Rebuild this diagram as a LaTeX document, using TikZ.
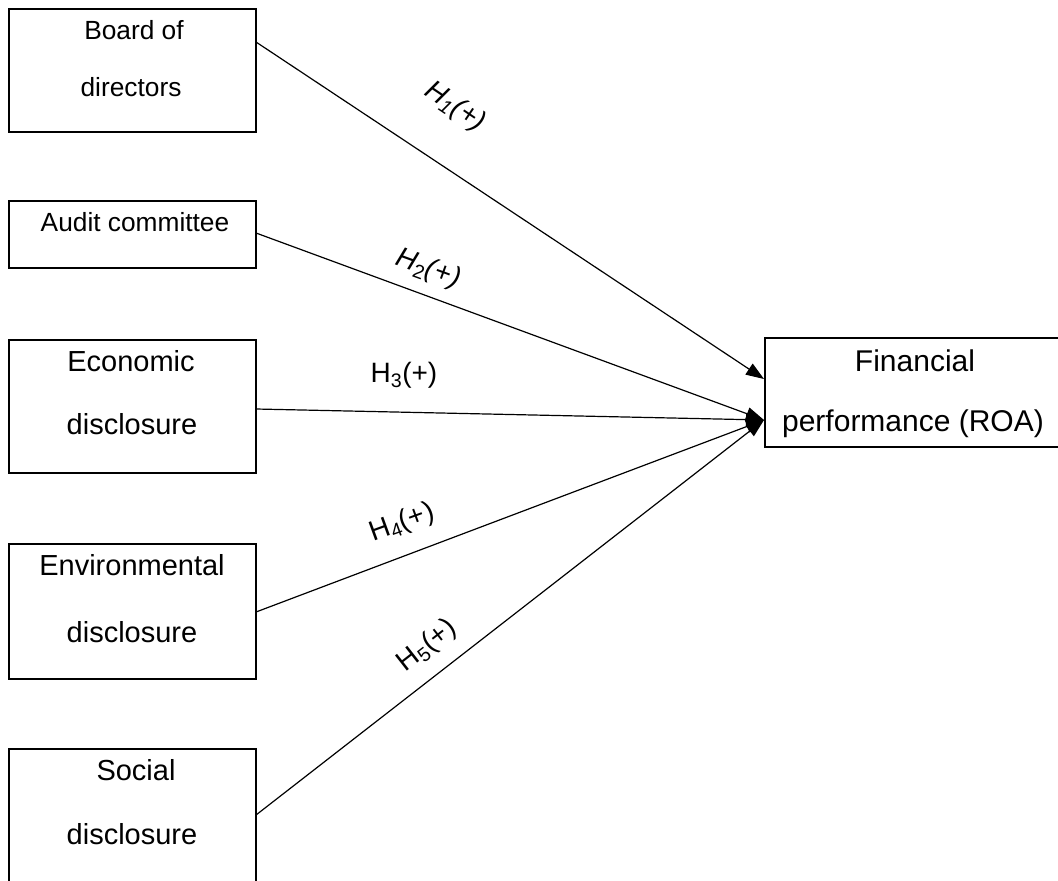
\documentclass[tikz,border=0pt]{standalone}
\usepackage{fontspec}
\setmainfont{Liberation Sans}
\usetikzlibrary{arrows.meta}
\begin{document}
\begin{tikzpicture}[x=1pt,y=-1pt,
  box/.style={draw, line width=2pt, inner sep=0pt},
  txt/.style={font=\fontsize{29}{34}\selectfont, inner sep=0pt, anchor=center},
  txtsm/.style={font=\fontsize{26.3}{31}\selectfont, inner sep=0pt, anchor=center},
  txtlg/.style={font=\fontsize{30}{35}\selectfont, inner sep=0pt, anchor=center},
  hyp/.style={font=\fontsize{28}{32}\selectfont, inner sep=0pt},
  link/.style={line width=1.2pt, -{Triangle[length=18pt,width=13pt]}}]
\useasboundingbox (0,0) rectangle (1058,881);
\clip (0,0) rectangle (1058,881);
% boxes
\node[box, minimum width=247pt, minimum height=123pt] (bod) at (132.5,70.5) {};
\node[box, minimum width=247pt, minimum height=67pt] (aud) at (132.5,234.5) {};
\node[box, minimum width=247pt, minimum height=133pt] (eco) at (132.5,406.5) {};
\node[box, minimum width=247pt, minimum height=135pt] (env) at (132.5,611.5) {};
\node[box, minimum width=247pt, minimum height=150pt] (soc) at (132.5,824) {};
\node[box, minimum width=296pt, minimum height=109pt] (fin) at (913,392.5) {};
% texts
\node[txtsm] (t1a) at (134,30) {Board of};
\node[txtsm] (t1b) at (131,87) {directors};
\node[txtsm] (t2) at (135,222) {Audit committee};
\node[txt] (t3a) at (131,361) {Economic};
\node[txt] (t3b) at (132,424) {disclosure};
\node[txt] (t4a) at (132,565) {Environmental};
\node[txt] (t4b) at (132,632) {disclosure};
\node[txt] (t5a) at (136,770) {Social};
\node[txt] (t5b) at (132,834) {disclosure};
\node[txtlg] (t6a) at (915,361) {Financial};
\node[txtlg] (t6b) at (913,424) {performance (ROA)};
% connector points
\coordinate (s1) at (256,42);
\coordinate (s2) at (256,233);
\coordinate (s3) at (256,409);
\coordinate (s4) at (256,612);
\coordinate (s5) at (256,815);
\coordinate (e1) at (764,379);
\coordinate (e0) at (764,420);
\draw[link] (s1) -- (e1);
\draw[link] (s2) -- (e0);
\draw[link] (s3) -- (e0);
\draw[link] (s4) -- (e0);
\draw[link] (s5) -- (e0);
% hypothesis labels
\node[hyp, rotate=-34] (h1) at (455,107) {\textit{H\textsubscript{1}(+)}};
\node[hyp, rotate=-20] (h2) at (428,269) {\textit{H}\textsubscript{2}\textit{(+)}};
\node[hyp] (h3) at (404,375) {H\textsubscript{3}(+)};
\node[hyp, rotate=20] (h4) at (402,523) {H\textsubscript{4}(+)};
\node[hyp, rotate=38] (h5) at (427,646) {H\textsubscript{5}(+)};
\end{tikzpicture}
\end{document}
